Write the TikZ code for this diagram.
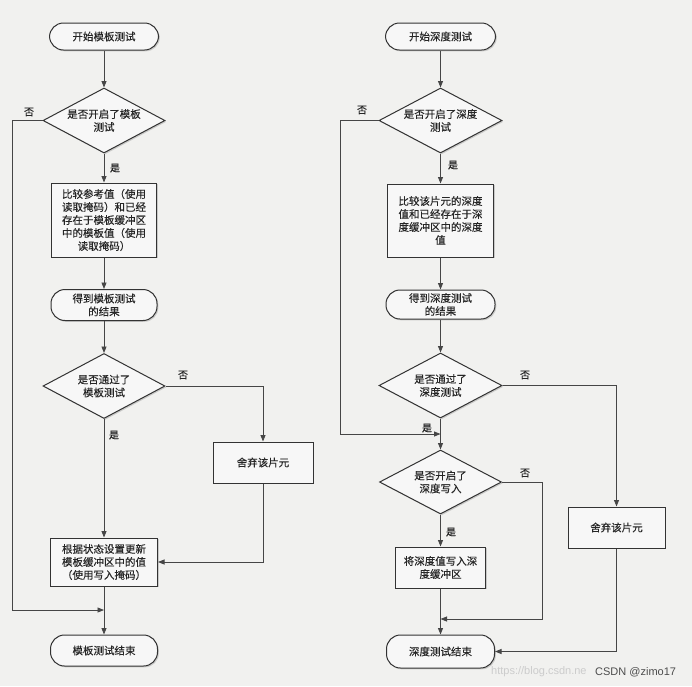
\documentclass[tikz,border=0pt]{standalone}
\usepackage{fontspec}
\setmainfont{Liberation Sans}
\newfontfamily\cjk[FakeBold=0.3]{Noto Sans CJK SC}
\usetikzlibrary{shapes.geometric,arrows.meta,shadows}
\definecolor{bgc}{HTML}{F1F1EF}
\definecolor{edgec}{HTML}{333333}
\definecolor{linec}{HTML}{464646}
\definecolor{txtc}{HTML}{262626}
\tikzset{
  base/.style={draw=edgec, line width=1pt, fill=white!97!black, text=txtc,
    font=\cjk\fontsize{10.5}{13}\selectfont, align=center, inner sep=1pt,
    drop shadow={opacity=0.35, shadow xshift=1.3pt, shadow yshift=-1.3pt}},
  term/.style={base, rectangle, rounded corners=14pt},
  procbox/.style={base, rectangle},
  dia/.style={base, diamond, aspect=1.88, inner sep=0pt},
  arr/.style={draw=linec, line width=0.85pt, -{Triangle[length=6.5pt,width=5pt]}},
  lbl/.style={text=txtc, font=\cjk\fontsize{10}{12}\selectfont, inner sep=0pt},
}
\begin{document}
\begin{tikzpicture}[x=1pt,y=-1pt]
\fill[bgc] (0,0) rectangle (692,686);
\useasboundingbox (0,0) rectangle (692,686);

% ---------- left column: stencil test ----------
\node[term, minimum width=109pt, minimum height=27pt] (s1) at (104,36.5) {开始模板测试};
\node[dia, minimum width=122pt, minimum height=65pt] (d1) at (104,120.5) {是否开启了模板\\测试};
\node[procbox, minimum width=105pt, minimum height=74pt] (b1) at (104,220) {比较参考值（使用\\读取掩码）和已经\\存在于模板缓冲区\\中的模板值（使用\\读取掩码）};
\node[term, minimum width=106pt, minimum height=31pt] (t2) at (104,305) {得到模板测试\\的结果};
\node[dia, minimum width=122pt, minimum height=65pt] (d2) at (104,386) {是否通过了\\模板测试};
\node[procbox, minimum width=100pt, minimum height=41pt] (x1) at (263,462.5) {舍弃该片元};
\node[procbox, minimum width=107pt, minimum height=48pt] (b2) at (104,562) {根据状态设置更新\\模板缓冲区中的值\\（使用写入掩码）};
\node[term, minimum width=107pt, minimum height=31pt] (e1) at (104,650.5) {模板测试结束};
\coordinate (ljoin) at (104,610);

\draw[arr] (s1) -- (d1);
\draw[arr] (d1) -- (b1);
\draw[arr] (b1) -- (t2);
\draw[arr] (t2) -- (d2);
\draw[arr] (d2.east) -| (x1.north);
\draw[arr] (d2) -- (b2);
\draw[arr] (x1.south) |- (b2.east);
\draw[arr] (b2) -- (e1);
\draw[arr] (d1.west) -- (12,120.5) |- (ljoin);

\node[lbl] (l1) at (29,112) {否};
\node[lbl] (l2) at (115,168) {是};
\node[lbl] (l3) at (183,375) {否};
\node[lbl] (l4) at (114,435) {是};

% ---------- right column: depth test ----------
\node[term, minimum width=110pt, minimum height=27pt] (s2) at (440.5,36.5) {开始深度测试};
\node[dia, minimum width=123pt, minimum height=65pt] (rd1) at (440.5,120.5) {是否开启了深度\\测试};
\node[procbox, minimum width=106pt, minimum height=73pt] (rb1) at (440.5,220.5) {比较该片元的深度\\值和已经存在于深\\度缓冲区中的深度\\值};
\node[term, minimum width=109pt, minimum height=29pt] (rt2) at (440.5,304.5) {得到深度测试\\的结果};
\node[dia, minimum width=123pt, minimum height=65pt] (rd2) at (440.5,385.5) {是否通过了\\深度测试};
\node[dia, minimum width=122pt, minimum height=64pt] (rd3) at (440.5,482) {是否开启了\\深度写入};
\node[procbox, minimum width=90pt, minimum height=41pt] (rb2) at (440.5,567.5) {将深度值写入深\\度缓冲区};
\node[procbox, minimum width=97pt, minimum height=41pt] (rx) at (616.5,527.5) {舍弃该片元};
\node[term, minimum width=108pt, minimum height=33pt] (re) at (440.5,651.5) {深度测试结束};
\coordinate (rjoin) at (440.5,434);
\coordinate (rjoin2) at (440.5,619);

\draw[arr] (s2) -- (rd1);
\draw[arr] (rd1) -- (rb1);
\draw[arr] (rb1) -- (rt2);
\draw[arr] (rt2) -- (rd2);
\draw[arr] (rd2) -- (rd3);
\draw[arr] (rd2.east) -| (rx.north);
\draw[arr] (rd3) -- (rb2);
\draw[arr] (rd3.east) -- (542,482) |- (rjoin2);
\draw[arr] (rb2) -- (re);
\draw[arr] (rx.south) |- (re.east);
\draw[arr] (rd1.west) -- (340,120.5) |- (rjoin);

\node[lbl] (r1) at (362,110) {否};
\node[lbl] (r2) at (453,165) {是};
\node[lbl] (r3) at (525,375) {否};
\node[lbl] (r4) at (427,428) {是};
\node[lbl] (r5) at (525,473) {否};
\node[lbl] (r6) at (451,532) {是};

% ---------- watermark ----------
\node[anchor=west, text=black!20, font=\fontsize{11}{13}\selectfont, inner sep=0pt] (wm1) at (491,672) {https://blog.csdn.ne};
\node[anchor=west, text=black!70, font=\fontsize{11}{13}\selectfont, inner sep=0pt] (wm2) at (595,672) {CSDN @zimo17};
\end{tikzpicture}
\end{document}
